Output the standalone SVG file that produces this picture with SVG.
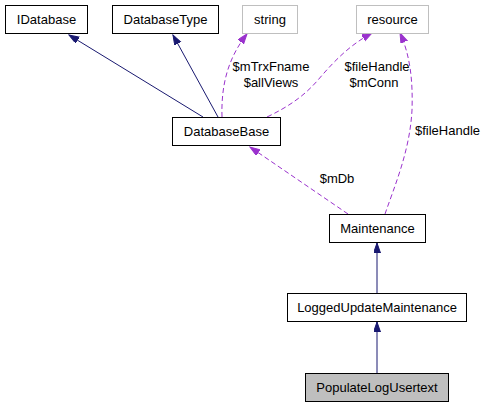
<svg xmlns="http://www.w3.org/2000/svg" width="485" height="408" viewBox="0 0 485 408">
<style>
.box{fill:#ffffff;stroke:#000000;stroke-width:1}
.gbox{fill:#ffffff;stroke:#bfbfbf;stroke-width:1}
.cur{fill:#bfbfbf;stroke:#000000;stroke-width:1}
text{font-family:"Liberation Sans",Arial,sans-serif;font-size:13px;fill:#000000}
.c{text-anchor:middle}
.inh{fill:none;stroke:#191970;stroke-width:1}
.use{fill:none;stroke:#9a32cd;stroke-width:1;stroke-dasharray:5,3}
</style>
<defs>
<marker id="an" markerUnits="userSpaceOnUse" markerWidth="11" markerHeight="8" refX="10" refY="3.5" orient="auto">
<path d="M0,0 L10,3.5 L0,7 z" fill="#191970" stroke="#191970"/>
</marker>
<marker id="ap" markerUnits="userSpaceOnUse" markerWidth="11" markerHeight="8" refX="10" refY="3.5" orient="auto">
<path d="M0,0 L10,3.5 L0,7 z" fill="#9a32cd" stroke="#9a32cd"/>
</marker>
</defs>
<g id="connectors">
<path class="inh" d="M203,117 L69,35" marker-end="url(#an)"/>
<path class="inh" d="M218,117 L173,35" marker-end="url(#an)"/>
<path class="use" d="M222,117 C221,85 228,58 247,34" marker-end="url(#ap)"/>
<path class="use" d="M267,117 C290,106 305,95 318,80 C335,60 350,45 372,33" marker-end="url(#ap)"/>
<path class="use" d="M385,214 C395,185 410,150 412,110 C413,80 410,55 400,33" marker-end="url(#ap)"/>
<path class="use" d="M348,214 L250,147" marker-end="url(#ap)"/>
<path class="inh" d="M377,293 L377,243" marker-end="url(#an)"/>
<path class="inh" d="M377,373 L377,322" marker-end="url(#an)"/>
<text class="c" x="271" y="71">$mTrxFname</text>
<text class="c" x="271" y="87">$allViews</text>
<text class="c" x="377" y="71">$fileHandle</text>
<text class="c" x="374" y="87">$mConn</text>
<text x="415" y="135">$fileHandle</text>
<text class="c" x="337" y="183">$mDb</text>
</g>
<g id="IDatabase"><rect class="box" x="5.5" y="5.5" width="82" height="28"/><text class="c" x="46.5" y="24">IDatabase</text></g>
<g id="DatabaseType"><rect class="box" x="112.5" y="5.5" width="106" height="28"/><text class="c" x="165.5" y="24">DatabaseType</text></g>
<g id="string"><rect class="gbox" x="242.5" y="5.5" width="55" height="28"/><text class="c" x="270" y="24">string</text></g>
<g id="resource"><rect class="gbox" x="356.5" y="5.5" width="72" height="28"/><text class="c" x="392.5" y="24">resource</text></g>
<g id="DatabaseBase"><rect class="box" x="172.5" y="117.5" width="108" height="28"/><text class="c" x="226.5" y="136">DatabaseBase</text></g>
<g id="Maintenance"><rect class="box" x="329.5" y="214.5" width="96" height="28"/><text class="c" x="377.5" y="233">Maintenance</text></g>
<g id="LoggedUpdateMaintenance"><rect class="box" x="287.5" y="293.5" width="179" height="28"/><text class="c" x="377" y="312">LoggedUpdateMaintenance</text></g>
<g id="PopulateLogUsertext"><rect class="cur" x="305.5" y="373.5" width="143" height="28"/><text class="c" x="377" y="392">PopulateLogUsertext</text></g>
</svg>
